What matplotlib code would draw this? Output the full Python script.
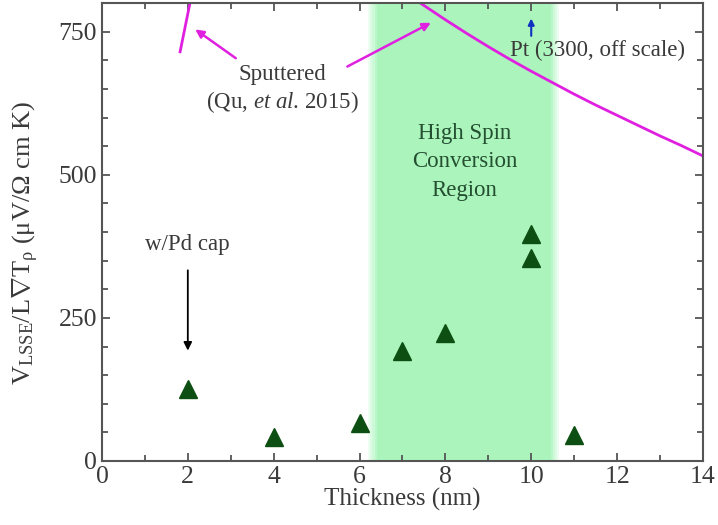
import numpy as np
import matplotlib
matplotlib.use("Agg")
import matplotlib.pyplot as plt
from matplotlib.ticker import MultipleLocator

plt.rcParams['font.family'] = ['Liberation Serif', 'DejaVu Serif']
plt.rcParams['mathtext.fontset'] = 'custom'
plt.rcParams['mathtext.rm'] = 'Liberation Serif'
plt.rcParams['mathtext.it'] = 'Liberation Serif:italic'

# measured points (thickness in nm, signal)
thickness = [2, 4, 6, 7, 8, 10, 10, 11]
signal = [126, 42, 66, 192, 224, 397, 355, 45]

# sputtered reference curves (Qu et al. 2015)
sput_left_x = [1.82, 2.05]
sput_left_y = [715, 800]
sput_right_x = [7.42, 8.0, 8.5, 9.0, 9.5, 10.0, 10.5, 11.0, 11.5, 12.0, 12.5, 13.0, 13.5, 14.0]
sput_right_y = [800, 771, 747, 724, 702, 681, 661, 641, 622, 604, 586, 568, 551, 533]

# high spin conversion band
band_lo = 6.3
band_hi = 10.55

green = '#abf5bd'
magenta = '#e020e0'
dark = '#3a3a3a'

fig = plt.figure(figsize=(7.18, 5.25), dpi=100)
ax = fig.add_axes([0.142, 0.122, 0.837, 0.872])

# soft-edged band
ax.axvspan(band_lo + 0.1, band_hi - 0.1, color=green, lw=0, zorder=0)
for k in range(1, 5):
    d = 0.05 * k
    ax.axvspan(band_lo + 0.1 - d, band_lo + 0.1 - d + 0.05, color=green, alpha=1 - k * 0.2, lw=0, zorder=0)
    ax.axvspan(band_hi - 0.1 + d - 0.05, band_hi - 0.1 + d, color=green, alpha=1 - k * 0.2, lw=0, zorder=0)

ax.plot(sput_left_x, sput_left_y, color=magenta, lw=2, zorder=2)
ax.plot(sput_right_x, sput_right_y, color=magenta, lw=2, zorder=2)

ax.plot(thickness, signal, linestyle='none', marker='^', markersize=13,
        color='#0d4f12', zorder=3)

# annotations
fs = 16.5
ax.text(4.2, 675, 'Sputtered', ha='center', va='center', fontsize=fs, color=dark)
ax.text(4.2, 628, '(Qu, $\\it{et\\ al}$. 2015)', ha='center', va='center', fontsize=fs, color=dark)
ax.annotate('', xy=(2.12, 757), xytext=(3.17, 701),
            arrowprops=dict(arrowstyle='-|>', color=magenta, lw=1.8, mutation_scale=12))
ax.annotate('', xy=(7.72, 768), xytext=(5.66, 687),
            arrowprops=dict(arrowstyle='-|>', color=magenta, lw=1.8, mutation_scale=12))

ax.text(8.45, 573, 'High Spin', ha='center', va='center', fontsize=fs, color='#244f30')
ax.text(8.45, 524, 'Conversion', ha='center', va='center', fontsize=fs, color='#244f30')
ax.text(8.45, 472, 'Region', ha='center', va='center', fontsize=fs, color='#244f30')

ax.text(1.98, 378, 'w/Pd cap', ha='center', va='center', fontsize=fs, color=dark)
ax.annotate('', xy=(2.0, 188), xytext=(2.0, 338),
            arrowprops=dict(arrowstyle='-|>', color='black', lw=1.3, mutation_scale=12))

ax.annotate('', xy=(10.0, 778), xytext=(10.0, 738),
            arrowprops=dict(arrowstyle='-|>', color='#1030c0', lw=1.5, mutation_scale=9))
ax.text(11.55, 718, 'Pt (3300, off scale)', ha='center', va='center', fontsize=fs, color=dark)

ax.set_xlim(0, 14)
ax.set_ylim(0, 800)
ax.xaxis.set_major_locator(MultipleLocator(2))
ax.xaxis.set_minor_locator(MultipleLocator(1))
ax.yaxis.set_major_locator(MultipleLocator(250))
ax.yaxis.set_minor_locator(MultipleLocator(50))
ax.tick_params(which='both', direction='in', top=True, right=True, colors='#555555',
               labelcolor=dark, labelsize=18.5, width=1.3)
ax.tick_params(which='major', length=6)
ax.tick_params(which='minor', length=4)
for s in ax.spines.values():
    s.set_color('#555555')
    s.set_linewidth(1.5)

ax.set_xlabel('Thickness (nm)', fontsize=18, color=dark, labelpad=0)
ax.set_ylabel('V$_{\\rm LSSE}$/L$\\nabla$T$_{\\rm \u03c1}$ (\u03bcV/\u03a9 cm K)', fontsize=19,
              color=dark)
ax.yaxis.set_label_coords(-0.102, 0.476)

fig.savefig('out.png', dpi=100)
